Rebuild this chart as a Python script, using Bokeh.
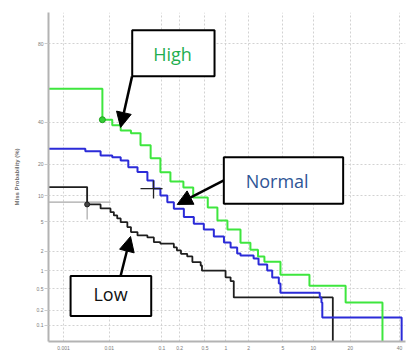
from statistics import NormalDist
from bokeh.plotting import figure
from bokeh.models import FixedTicker, Range1d, BoxAnnotation, Label, Arrow, NormalHead
from bokeh.embed import file_html
from bokeh.resources import INLINE

# ---------------- data (percent) ----------------
x_ticks = [0.001, 0.01, 0.1, 0.2, 0.5, 1, 2, 5, 10, 20, 40]
x_tick_labels = ["0.001", "0.01", "0.1", "0.2", "0.5", "1", "2", "5", "10", "20", "40"]
y_ticks = [0.1, 0.2, 0.5, 1, 2, 5, 10, 20, 40, 80]
y_tick_labels = ["0.1", "0.2", "0.5", "1", "2", "5", "10", "20", "40", "80"]

high_fa = [1e-4, 0.0072, 0.0115, 0.017, 0.027, 0.041, 0.063, 0.094, 0.14, 0.23, 0.33,
           0.55, 0.76, 1.05, 1.57, 2.1, 2.6, 3.1, 4.7, 9.2, 18.5, 32.4]
high_miss = [58.4, 41.3, 38.3, 35.6, 34.1, 28.2, 22.4, 17.0, 14.0, 12.2, 9.6,
             7.45, 5.2, 3.98, 2.65, 2.1, 1.66, 1.39, 0.86, 0.56, 0.28, 1e-3]

normal_fa = [1e-4, 0.0031, 0.0066, 0.0115, 0.017, 0.024, 0.036, 0.055, 0.071, 0.094,
             0.124, 0.16, 0.234, 0.337, 0.48, 0.675, 0.94, 1.16, 1.42, 1.57, 2.3,
             2.64, 3.34, 3.81, 4.51, 4.7, 11.4, 11.8, 12.0, 41.0]
normal_miss = [26.6, 25.5, 23.6, 22.9, 21.5, 18.9, 17.1, 14.3, 11.9, 10.1,
               8.54, 7.19, 5.72, 4.74, 3.98, 3.23, 2.67, 2.27, 1.85, 1.73, 1.56,
               1.26, 1.01, 0.774, 0.613, 0.424, 0.347, 0.28, 0.145, 1e-3]

low_fa = [1e-4, 0.0034, 0.0066, 0.0106, 0.0124, 0.0145, 0.017, 0.023, 0.027, 0.036,
          0.055, 0.072, 0.094, 0.16, 0.18, 0.21, 0.265, 0.32, 0.43, 0.45, 0.99,
          1.16, 1.28, 14.7]
low_miss = [12.3, 8.05, 7.25, 6.57, 6.0, 5.51, 4.96, 4.29, 3.69, 3.33,
            3.13, 2.69, 2.56, 2.27, 2.05, 1.83, 1.67, 1.37, 1.21, 1.0, 0.78,
            0.674, 0.347, 1e-3]

# operating points
high_point = (0.0072, 41.3)
low_point = (0.0034, 8.05)
# confidence crosses: (fa_lo, fa_hi, miss_center) and (fa_center, miss_lo, miss_hi)
normal_ci_h = (0.041, 0.1025, 11.9)
normal_ci_v = (0.071, 9.38, 14.3)
low_ci_h = (1e-4, 0.0106, 8.54)
low_ci_v = (0.0034, 5.36, 12.4)

nd = NormalDist()


def probit(pct):
    return nd.inv_cdf(pct / 100.0)


def pv(vals):
    return [probit(v) for v in vals]


p = figure(width=409, height=353, output_backend="svg", toolbar_location=None,
           title=None,
           x_range=Range1d(probit(0.00044), probit(42.8)),
           y_range=Range1d(probit(0.046), probit(89.9)),
           min_border_left=48, min_border_right=4, min_border_top=12, min_border_bottom=12)
p.outline_line_color = None
p.background_fill_color = "white"

p.xaxis.ticker = FixedTicker(ticks=pv(x_ticks))
p.yaxis.ticker = FixedTicker(ticks=pv(y_ticks))
p.xaxis.major_label_overrides = {probit(v): s for v, s in zip(x_ticks, x_tick_labels)}
p.yaxis.major_label_overrides = {probit(v): s for v, s in zip(y_ticks, y_tick_labels)}

for ax in (p.xaxis, p.yaxis):
    ax.axis_line_color = "#b3b3b3"
    ax.axis_line_width = 2
    ax.minor_tick_line_color = None
    ax.major_tick_line_color = "#cccccc"
    ax.major_tick_in = 0
    ax.major_label_text_font = "Liberation Sans"
    ax.major_label_text_font_size = "5px"
    ax.major_label_text_color = "#7a7a7a"
p.xaxis.major_tick_out = 0
p.xaxis.major_label_standoff = 4
p.yaxis.major_tick_out = 4
p.yaxis.major_label_standoff = 1
p.yaxis.axis_label = "Miss Probability (%)"
p.yaxis.axis_label_text_font = "Liberation Sans"
p.yaxis.axis_label_text_font_size = "6px"
p.yaxis.axis_label_text_font_style = "bold"
p.yaxis.axis_label_text_color = "#6e6e6e"
p.yaxis.axis_label_standoff = 14

p.grid.grid_line_color = "#d2d2d2"
p.grid.grid_line_dash = "2 2"
p.grid.grid_line_width = 1

# confidence crosses
p.segment(x0=[probit(low_ci_h[0])], x1=[probit(low_ci_h[1])], y0=[probit(low_ci_h[2])], y1=[probit(low_ci_h[2])],
          line_color="#a8a8a8", line_width=1.2)
p.segment(x0=[probit(low_ci_v[0])], x1=[probit(low_ci_v[0])], y0=[probit(low_ci_v[1])], y1=[probit(low_ci_v[2])],
          line_color="#a8a8a8", line_width=1.2)

# curves
p.step(pv(low_fa), pv(low_miss), mode="after", line_color="#1e1e1e", line_width=1.8)
p.step(pv(normal_fa), pv(normal_miss), mode="after", line_color="#2b2bd8", line_width=2)
p.step(pv(high_fa), pv(high_miss), mode="after", line_color="#3ee63e", line_width=2)

p.segment(x0=[probit(normal_ci_h[0])], x1=[probit(normal_ci_h[1])], y0=[probit(normal_ci_h[2])], y1=[probit(normal_ci_h[2])],
          line_color="#222222", line_width=1.3)
p.segment(x0=[probit(normal_ci_v[0])], x1=[probit(normal_ci_v[0])], y0=[probit(normal_ci_v[1])], y1=[probit(normal_ci_v[2])],
          line_color="#222222", line_width=1.3)

p.scatter([probit(high_point[0])], [probit(high_point[1])], size=6, fill_color="#35cf35", line_color="#1f9f1f")
p.scatter([probit(low_point[0])], [probit(low_point[1])], size=5, fill_color="#444444", line_color="#222222")

# callouts (positions in probit units)
callouts = [
    # text, color, box (left, right, bottom, top), text pos, arrow start, arrow end
    ("High", "#1fae4f", (-3.445, -2.462, 0.385, 1.027), (-2.964, 0.699), (-3.447, 0.385), (-3.584, -0.327)),
    ("Normal", "#2e5596", (-2.351, -0.926, -1.392, -0.742), (-1.714, -1.081), (-2.351, -1.067), (-2.908, -1.402)),
    ("Low", "#111111", (-4.181, -3.218, -2.959, -2.400), (-3.704, -2.658), (-3.584, -2.400), (-3.465, -1.849)),
]
for text, color, (l, r, b, t), (tx, ty), (xs, ys), (xe, ye) in callouts:
    p.add_layout(Arrow(end=NormalHead(size=15, fill_color="black", line_color="black"),
                       x_start=xs, y_start=ys, x_end=xe, y_end=ye,
                       line_color="black", line_width=2.5))
    p.add_layout(BoxAnnotation(left=l, right=r, bottom=b, top=t, fill_color="white", fill_alpha=1.0,
                               line_color="black", line_width=2, line_alpha=1.0))
    p.add_layout(Label(x=tx, y=ty, text=text, text_align="center", text_baseline="middle",
                       text_font="Open Sans", text_font_size="18px", text_color=color))

open("out.html", "w").write(file_html(p, INLINE))
